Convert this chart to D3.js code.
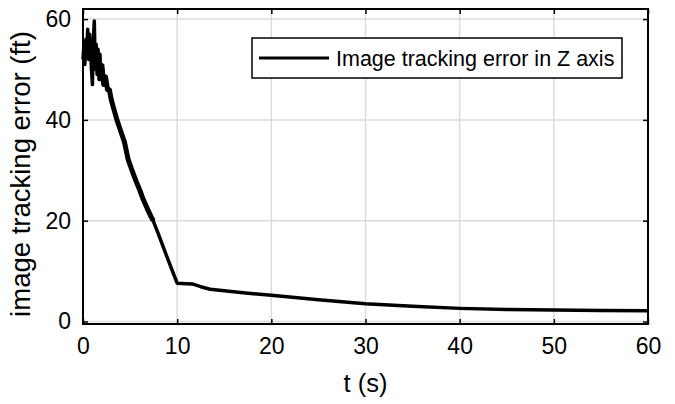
<!DOCTYPE html>
<html>
<head>
<meta charset="utf-8">
<script src="https://cdn.jsdelivr.net/npm/d3@7"></script>
<style>
  body { margin: 0; background: #fff; }
  text { font-family: "Liberation Sans", Arial, sans-serif; }
</style>
</head>
<body>
<div id="chart"></div>
<script>
// values (t in s, error in ft)
var tVals = [0, 0.1, 0.2, 0.3, 0.4, 0.5, 0.6, 0.7, 0.8, 0.9, 1.0, 1.1, 1.2, 1.3, 1.4, 1.5, 1.6, 1.7, 1.8, 1.9,
  2.0, 2.2, 2.4, 2.6, 2.8, 3.0, 3.3, 3.6, 4.0, 4.4, 4.8, 5.2, 5.6, 6.0, 6.4, 6.8, 7.2, 7.45, 8.0, 8.5,
  9.0, 9.5, 10.0, 11.0, 11.6, 12.5, 13.5, 15, 17, 20, 25, 30, 35, 40, 45, 50, 55, 60];
var errVals = [52, 55, 51, 56, 53, 58, 52, 57, 54, 50, 47, 56, 59.6, 50, 55, 49, 54, 48, 53, 48,
  51, 47, 48.5, 46, 46, 44, 42, 40, 37.8, 35.6, 32.1, 30.0, 28.0, 26.2, 24.2, 22.5, 20.9, 20, 17.4, 14.9,
  12.4, 10.0, 7.6, 7.5, 7.45, 6.9, 6.4, 6.1, 5.7, 5.2, 4.3, 3.5, 3.0, 2.6, 2.4, 2.3, 2.2, 2.15];
var xTicks = [0, 10, 20, 30, 40, 50, 60];
var yTicks = [0, 20, 40, 60];
var legendLabel = "Image tracking error in Z axis";

var W = 675, H = 404;
var margin = {top: 9, right: 27, bottom: 80, left: 83},
    width = W - margin.left - margin.right,
    height = H - margin.top - margin.bottom;

var svg = d3.select("#chart")
  .append("svg")
    .attr("width", W)
    .attr("height", H)
  .append("g")
    .attr("transform", "translate(" + margin.left + "," + margin.top + ")");

var x = d3.scaleLinear().domain([0, 60]).range([0, width]);
var y = d3.scaleLinear().domain([-0.5, 62]).range([height, 0]);

// grid
svg.selectAll(".gx").data(xTicks.slice(1, -1)).enter().append("line")
  .attr("x1", d => x(d)).attr("x2", d => x(d))
  .attr("y1", 0).attr("y2", height)
  .attr("stroke", "#dcdcdc").attr("stroke-width", 1.5);
svg.selectAll(".gy").data(yTicks).enter().append("line")
  .attr("x1", 0).attr("x2", width)
  .attr("y1", d => y(d)).attr("y2", d => y(d))
  .attr("stroke", "#dcdcdc").attr("stroke-width", 1.5);

// axes with inward ticks
var fmt = d3.format("d");
var xb = svg.append("g").attr("transform", "translate(0," + height + ")")
  .call(d3.axisBottom(x).tickValues(xTicks).tickSizeInner(-5).tickSizeOuter(0).tickPadding(14).tickFormat(fmt));
var xt = svg.append("g")
  .call(d3.axisTop(x).tickValues(xTicks).tickSizeInner(-5).tickSizeOuter(0).tickFormat(""));
var yl = svg.append("g")
  .call(d3.axisLeft(y).tickValues(yTicks).tickSizeInner(-5).tickSizeOuter(0).tickPadding(12).tickFormat(fmt));
var yr = svg.append("g").attr("transform", "translate(" + width + ",0)")
  .call(d3.axisRight(y).tickValues(yTicks).tickSizeInner(-5).tickSizeOuter(0).tickFormat(""));

[xb, xt, yl, yr].forEach(function(g) {
  g.select(".domain").remove();
  g.selectAll(".tick line").attr("stroke", "#000").attr("stroke-width", 1.5);
  g.selectAll(".tick text").attr("fill", "#000").attr("font-size", "23px")
    .style("font-family", "'Liberation Sans', Arial, sans-serif");
});

// frame
svg.append("rect")
  .attr("x", 0).attr("y", 0).attr("width", width).attr("height", height)
  .attr("fill", "none").attr("stroke", "#000").attr("stroke-width", 2);

// data line (the early, jittery part reads heavier)
var pts = tVals.map((t, i) => [t, errVals[i]]);
var line = d3.line().x(d => x(d[0])).y(d => y(d[1]));
svg.append("path")
  .datum(pts)
  .attr("fill", "none")
  .attr("stroke", "#000")
  .attr("stroke-width", 3.5)
  .attr("stroke-linejoin", "round")
  .attr("d", line);
svg.append("path")
  .datum(pts.filter(d => d[0] >= 2 && d[0] <= 7.45))
  .attr("fill", "none")
  .attr("stroke", "#000")
  .attr("stroke-width", 5)
  .attr("stroke-linejoin", "round")
  .attr("d", line);

// axis labels
svg.append("text")
  .attr("x", width / 2).attr("y", height + 68)
  .attr("text-anchor", "middle").attr("font-size", "25.5px")
  .text("t (s)");
svg.append("text")
  .attr("transform", "translate(" + (-53) + "," + (174 - margin.top) + ") rotate(-90)")
  .attr("text-anchor", "middle").attr("font-size", "27.5px")
  .text("image tracking error (ft)");

// legend
var lg = svg.append("g").attr("transform", "translate(" + (252 - margin.left) + "," + (38 - margin.top) + ")");
lg.append("rect").attr("width", 370).attr("height", 40)
  .attr("fill", "#fff").attr("stroke", "#000").attr("stroke-width", 1.5);
lg.append("line").attr("x1", 7).attr("x2", 77).attr("y1", 20).attr("y2", 20)
  .attr("stroke", "#000").attr("stroke-width", 3);
lg.append("text").attr("x", 84).attr("y", 28).attr("font-size", "21.5px")
  .text(legendLabel);
</script>
</body>
</html>
